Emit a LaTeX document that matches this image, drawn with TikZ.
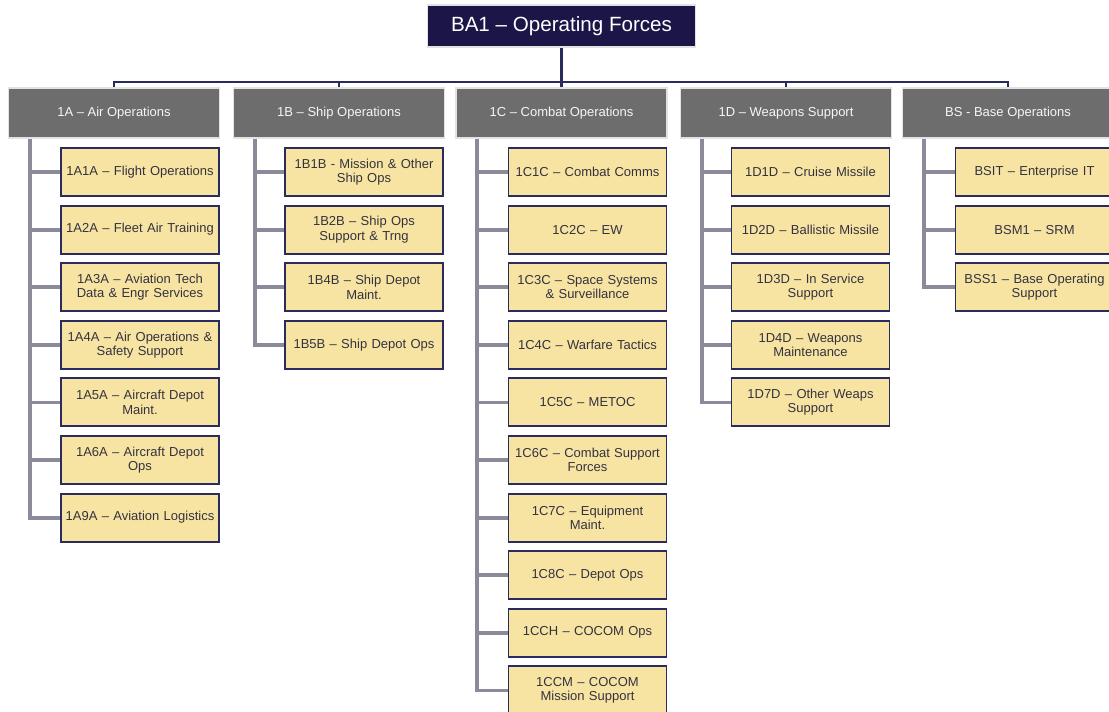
\documentclass[tikz,border=0pt]{standalone}
\usepackage{fontspec}
\setmainfont{Liberation Sans}
\definecolor{navy}{HTML}{1B1548}
\definecolor{busc}{HTML}{2A2A5C}
\definecolor{hdrfill}{HTML}{6D6D6D}
\definecolor{hdredge}{HTML}{E2E2E2}
\definecolor{kidfill}{HTML}{F8E4A2}
\definecolor{kidedge}{HTML}{2B2B5E}
\definecolor{conc}{HTML}{8A8A9A}
\definecolor{txt}{HTML}{333340}
\begin{document}
\begin{tikzpicture}[x=1pt,y=-1pt,
  topbox/.style={draw=hdredge,line width=1.8pt,fill=navy,text=white,minimum width=268pt,minimum height=42pt,inner sep=0pt,font=\fontsize{20.6}{23}\selectfont},
  hdr/.style={draw=hdredge,line width=1.8pt,fill=hdrfill,text=white!93!gray,minimum width=211pt,minimum height=50pt,inner sep=0pt,font=\fontsize{13}{15}\selectfont},
  kid/.style={draw=kidedge,line width=1.9pt,fill=kidfill,text=txt,minimum width=158pt,minimum height=48pt,inner sep=0pt,align=center,text width=158pt,font=\fontsize{13}{14.3}\selectfont},
  busline/.style={draw=busc,line width=2.6pt},
  conn/.style={draw=conc,line width=3.8pt}]
\useasboundingbox (0,0) rectangle (1109,712);
\fill[white] (0,0) rectangle (1109,712);

\node[topbox] (top) at (561.5,26) {BA1 -- Operating Forces};

\node[hdr] (hA) at (114,113) {1A -- Air Operations};
\node[hdr] (hB) at (339,113) {1B -- Ship Operations};
\node[hdr] (hC) at (561.5,113) {1C -- Combat Operations};
\node[hdr] (hD) at (786,113) {1D -- Weapons Support};
\node[hdr] (hE) at (1008,113) {BS - Base Operations};

\coordinate (bus) at (561.5,82);
\draw[busline] (top.south) -- (bus);
\draw[busline] (hA.north) -- (hA.north |- bus) -- (hE.north |- bus) -- (hE.north);
\draw[busline] (hB.north) -- (hB.north |- bus);
\draw[busline] (hC.north) -- (hC.north |- bus);
\draw[busline] (hD.north) -- (hD.north |- bus);

% 1A column
\node[kid] (a1) at (140,172) {1A1A -- Flight Operations};
\node[kid] (a2) at (140,229.6) {1A2A -- Fleet Air Training};
\node[kid] (a3) at (140,287.2) {1A3A -- Aviation Tech\\Data \& Engr Services};
\node[kid] (a4) at (140,344.8) {1A4A -- Air Operations \&\\Safety Support};
\node[kid] (a5) at (140,402.4) {1A5A -- Aircraft Depot\\Maint.};
\node[kid] (a6) at (140,460) {1A6A -- Aircraft Depot\\Ops};
\node[kid] (a7) at (140,517.6) {1A9A -- Aviation Logistics};

% 1B column
\node[kid] (b1) at (364,172) {1B1B - Mission \& Other\\Ship Ops};
\node[kid] (b2) at (364,229.6) {1B2B -- Ship Ops\\Support \& Trng};
\node[kid] (b3) at (364,287.2) {1B4B -- Ship Depot\\Maint.};
\node[kid] (b4) at (364,344.8) {1B5B -- Ship Depot Ops};

% 1C column
\node[kid] (c1) at (587.5,172) {1C1C -- Combat Comms};
\node[kid] (c2) at (587.5,229.6) {1C2C -- EW};
\node[kid] (c3) at (587.5,287.2) {1C3C -- Space Systems\\\& Surveillance};
\node[kid] (c4) at (587.5,344.8) {1C4C -- Warfare Tactics};
\node[kid] (c5) at (587.5,402.4) {1C5C -- METOC};
\node[kid] (c6) at (587.5,460) {1C6C -- Combat Support\\Forces};
\node[kid] (c7) at (587.5,517.6) {1C7C -- Equipment\\Maint.};
\node[kid] (c8) at (587.5,575.2) {1C8C -- Depot Ops};
\node[kid] (c9) at (587.5,632.8) {1CCH -- COCOM Ops};
\node[kid] (c10) at (587.5,690.4) {1CCM -- COCOM\\Mission Support};

% 1D column
\node[kid] (d1) at (810.5,172) {1D1D -- Cruise Missile};
\node[kid] (d2) at (810.5,229.6) {1D2D -- Ballistic Missile};
\node[kid] (d3) at (810.5,287.2) {1D3D -- In Service\\Support};
\node[kid] (d4) at (810.5,344.8) {1D4D -- Weapons\\Maintenance};
\node[kid] (d5) at (810.5,402.4) {1D7D -- Other Weaps\\Support};

% BS column
\node[kid] (e1) at (1034.5,172) {BSIT -- Enterprise IT};
\node[kid] (e2) at (1034.5,229.6) {BSM1 -- SRM};
\node[kid] (e3) at (1034.5,287.2) {BSS1 -- Base Operating\\Support};

% trunks
\coordinate (tA) at ([xshift=22pt]hA.south west);
\coordinate (tB) at ([xshift=22pt]hB.south west);
\coordinate (tC) at ([xshift=22pt]hC.south west);
\coordinate (tD) at ([xshift=22pt]hD.south west);
\coordinate (tE) at ([xshift=22pt]hE.south west);

\draw[conn] (tA) |- (a7.west);
\foreach \n in {a1,a2,a3,a4,a5,a6} \draw[conn] (tA |- \n.west) -- (\n.west);
\draw[conn] (tB) |- (b4.west);
\foreach \n in {b1,b2,b3} \draw[conn] (tB |- \n.west) -- (\n.west);
\draw[conn] (tC) |- (c10.west);
\foreach \n in {c1,c2,c3,c4,c5,c6,c7,c8,c9} \draw[conn] (tC |- \n.west) -- (\n.west);
\draw[conn] (tD) |- (d5.west);
\foreach \n in {d1,d2,d3,d4} \draw[conn] (tD |- \n.west) -- (\n.west);
\draw[conn] (tE) |- (e3.west);
\foreach \n in {e1,e2} \draw[conn] (tE |- \n.west) -- (\n.west);
\end{tikzpicture}
\end{document}
